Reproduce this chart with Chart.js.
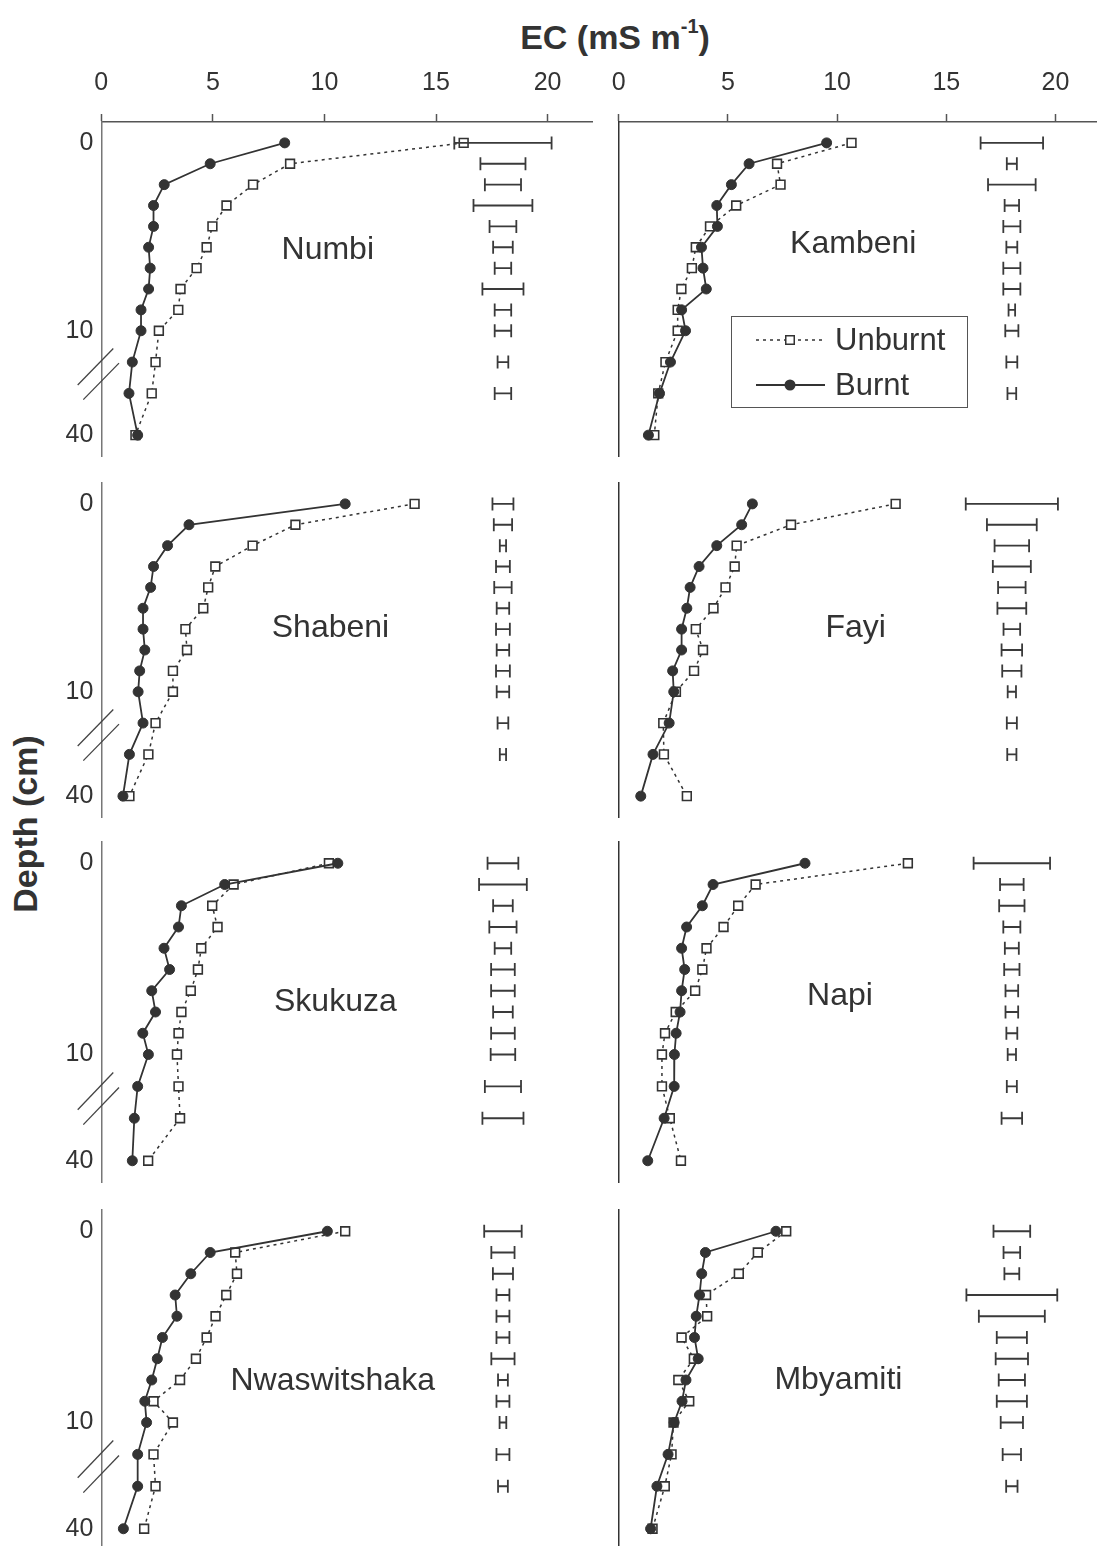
<!DOCTYPE html>
<html>
<head>
<meta charset="utf-8">
<title>EC por profundidad</title>
<script src="https://cdn.jsdelivr.net/npm/chart.js@4.4.1/dist/chart.umd.min.js"></script>
<style>
  html, body { margin: 0; padding: 0; background: #fff; overflow: hidden; }
  body { width: 1097px; height: 1546px; position: relative; font-family: "Liberation Sans", Arial, sans-serif; color: #333; }
  canvas { position: absolute; }
  .titulo { position: absolute; font-weight: bold; font-size: 34px; line-height: 34px; white-space: nowrap; }
  .titulo sup { font-size: 20px; line-height: 0; vertical-align: 16px; }
</style>
</head>
<body>
<div class="titulo" style="left:615px; top:20px; transform:translateX(-50%);">EC (mS m<sup>-1</sup>)</div>
<div class="titulo" style="left:-125px; top:807px; width:300px; height:34px; text-align:center; transform:rotate(-90deg);">Depth (cm)</div>

<script>
// Posición de cada capa muestreada sobre el eje de profundidad (eje cortado entre 10 y 40 cm)
const depthPos = [0, 1, 2, 3, 4, 5, 6, 7, 8, 9, 10.5, 12, 14];
const depthTickPos = [0, 9, 14];
const depthTickLabels = ['0', '10', '40'];
const ecTicks = [0, 5, 10, 15, 20];
const barCentre = 18; // las barras de error se dibujan centradas en 18

// EC (mS m-1) por sitio: quemado, no quemado y semiamplitud de la barra
const numbiBurnt   = [8.22, 4.88, 2.82, 2.34, 2.34, 2.12, 2.19, 2.12, 1.78, 1.78, 1.39, 1.24, 1.63];
const numbiUnburnt = [16.24, 8.46, 6.80, 5.61, 4.98, 4.72, 4.27, 3.55, 3.45, 2.58, 2.43, 2.26, 1.53];
const numbiErr     = [2.18, 1.01, 0.81, 1.32, 0.60, 0.44, 0.37, 0.92, 0.37, 0.37, 0.24, 0.37];

const kambeniBurnt   = [9.52, 5.97, 5.16, 4.49, 4.52, 3.79, 3.86, 4.01, 2.88, 3.06, 2.37, 1.87, 1.36];
const kambeniUnburnt = [10.66, 7.25, 7.41, 5.38, 4.18, 3.53, 3.35, 2.87, 2.70, 2.70, 2.14, 1.81, 1.63];
const kambeniErr     = [1.43, 0.23, 1.09, 0.33, 0.39, 0.25, 0.39, 0.39, 0.15, 0.30, 0.25, 0.20];

const shabeniBurnt   = [10.93, 3.93, 2.97, 2.34, 2.21, 1.87, 1.87, 1.95, 1.72, 1.65, 1.87, 1.26, 0.97];
const shabeniUnburnt = [14.04, 8.70, 6.78, 5.11, 4.79, 4.57, 3.77, 3.84, 3.21, 3.21, 2.43, 2.11, 1.26];
const shabeniErr     = [0.47, 0.41, 0.14, 0.31, 0.39, 0.28, 0.31, 0.28, 0.31, 0.28, 0.24, 0.14];

const fayiBurnt   = [6.12, 5.63, 4.49, 3.68, 3.27, 3.12, 2.88, 2.88, 2.47, 2.52, 2.31, 1.57, 1.01];
const fayiUnburnt = [12.68, 7.89, 5.40, 5.31, 4.89, 4.34, 3.53, 3.86, 3.45, 2.62, 2.04, 2.07, 3.12];
const fayiErr     = [2.11, 1.14, 0.79, 0.87, 0.63, 0.66, 0.38, 0.47, 0.44, 0.19, 0.23, 0.21];

const skukuzaBurnt   = [10.60, 5.53, 3.59, 3.46, 2.81, 3.06, 2.26, 2.43, 1.86, 2.11, 1.63, 1.48, 1.39];
const skukuzaUnburnt = [10.20, 5.93, 4.97, 5.21, 4.48, 4.33, 4.01, 3.59, 3.46, 3.39, 3.46, 3.53, 2.10];
const skukuzaErr     = [0.69, 1.07, 0.44, 0.61, 0.37, 0.53, 0.53, 0.44, 0.53, 0.55, 0.81, 0.92];

const napiBurnt   = [8.53, 4.32, 3.83, 3.11, 2.88, 3.02, 2.88, 2.81, 2.63, 2.55, 2.54, 2.08, 1.33];
const napiUnburnt = [13.24, 6.27, 5.47, 4.80, 4.02, 3.83, 3.50, 2.61, 2.12, 1.98, 1.98, 2.34, 2.85];
const napiErr     = [1.75, 0.54, 0.58, 0.39, 0.32, 0.35, 0.29, 0.29, 0.25, 0.19, 0.23, 0.47];

const nwasBurnt   = [10.13, 4.88, 4.01, 3.31, 3.39, 2.74, 2.51, 2.26, 1.95, 2.03, 1.63, 1.63, 0.99];
const nwasUnburnt = [10.93, 6.00, 6.08, 5.60, 5.12, 4.72, 4.24, 3.53, 2.34, 3.21, 2.34, 2.43, 1.92];
const nwasErr     = [0.84, 0.52, 0.45, 0.29, 0.29, 0.29, 0.52, 0.22, 0.29, 0.15, 0.29, 0.22];

const mbyaBurnt   = [7.20, 3.97, 3.80, 3.70, 3.55, 3.47, 3.64, 3.08, 2.90, 2.54, 2.26, 1.75, 1.46];
const mbyaUnburnt = [7.67, 6.37, 5.50, 4.00, 4.05, 2.88, 3.44, 2.73, 3.23, 2.51, 2.42, 2.11, 1.55];
const mbyaErr     = [0.84, 0.38, 0.34, 2.08, 1.51, 0.69, 0.74, 0.60, 0.69, 0.51, 0.42, 0.26];

// Paneles (fila, columna) y dónde va el nombre del sitio [EC, profundidad]
const paneles = [
  { nombre: 'Numbi',        fila: 0, col: 0, q: numbiBurnt,   nq: numbiUnburnt,   err: numbiErr,   rotulo: [10.15, 5.0] },
  { nombre: 'Kambeni',      fila: 0, col: 1, q: kambeniBurnt, nq: kambeniUnburnt, err: kambeniErr, rotulo: [10.74, 4.73], leyenda: true },
  { nombre: 'Shabeni',      fila: 1, col: 0, q: shabeniBurnt, nq: shabeniUnburnt, err: shabeniErr, rotulo: [10.27, 5.85] },
  { nombre: 'Fayi',         fila: 1, col: 1, q: fayiBurnt,    nq: fayiUnburnt,    err: fayiErr,    rotulo: [10.85, 5.82] },
  { nombre: 'Skukuza',      fila: 2, col: 0, q: skukuzaBurnt, nq: skukuzaUnburnt, err: skukuzaErr, rotulo: [10.49, 6.43] },
  { nombre: 'Napi',         fila: 2, col: 1, q: napiBurnt,    nq: napiUnburnt,    err: napiErr,    rotulo: [10.13, 6.12] },
  { nombre: 'Nwaswitshaka', fila: 3, col: 0, q: nwasBurnt,    nq: nwasUnburnt,    err: nwasErr,    rotulo: [10.37, 6.94] },
  { nombre: 'Mbyamiti',     fila: 3, col: 1, q: mbyaBurnt,    nq: mbyaUnburnt,    err: mbyaErr,    rotulo: [10.06, 6.88] }
];

// Geometría de la cuadrícula de paneles (px de página)
const filas = [[122, 456], [483, 817], [842, 1182], [1210, 1550]];
const columnas = [
  { left: 0,   ejeY: 101.3, width: 600, derecha: 597.3, colorEje: '#777' },
  { left: 597, ejeY: 21.7,  width: 510, derecha: 1104.5, colorEje: '#333' }
];

const FUENTE = '"Liberation Sans", Arial, sans-serif';
const TINTA = '#333';
Chart.defaults.font.family = FUENTE;
Chart.defaults.color = TINTA;

function cuadrado(ctx, x, y, lado) {
  ctx.fillStyle = '#fff';
  ctx.fillRect(x - lado / 2, y - lado / 2, lado, lado);
  ctx.strokeRect(x - lado / 2, y - lado / 2, lado, lado);
}

// Barras de error, corte del eje, nombre del sitio y leyenda
const extras = {
  id: 'extras',
  afterDatasetsDraw(chart, args, opts) {
    const p = opts.panel;
    const { ctx, chartArea } = chart;
    const x = chart.scales.x, y = chart.scales.y;
    ctx.save();

    ctx.strokeStyle = '#3a3a3a';
    ctx.lineWidth = 1.8;
    p.err.forEach((h, i) => {
      const yy = y.getPixelForValue(depthPos[i]);
      const x1 = x.getPixelForValue(barCentre - h);
      const x2 = x.getPixelForValue(barCentre + h);
      ctx.beginPath();
      ctx.moveTo(x1, yy); ctx.lineTo(x2, yy);
      ctx.moveTo(x1, yy - 6.5); ctx.lineTo(x1, yy + 6.5);
      ctx.moveTo(x2, yy - 6.5); ctx.lineTo(x2, yy + 6.5);
      ctx.stroke();
    });

    if (p.col === 0) {
      // doble barra del corte del eje
      const l = chartArea.left;
      ctx.strokeStyle = '#444';
      ctx.lineWidth = 1.3;
      [[-23.6, 11.6, 12, 9.85], [-18, 12.3, 17.7, 10.55]].forEach(([dx1, d1, dx2, d2]) => {
        ctx.beginPath();
        ctx.moveTo(l + dx1, y.getPixelForValue(d1));
        ctx.lineTo(l + dx2, y.getPixelForValue(d2));
        ctx.stroke();
      });
    }

    ctx.fillStyle = TINTA;
    ctx.font = '32px ' + FUENTE;
    ctx.textAlign = 'center';
    ctx.textBaseline = 'alphabetic';
    ctx.fillText(p.nombre, x.getPixelForValue(p.rotulo[0]), y.getPixelForValue(p.rotulo[1]) + 11.5);

    if (p.leyenda) {
      const ox = 597, oy = opts.top;
      ctx.strokeStyle = '#555';
      ctx.lineWidth = 1;
      ctx.strokeRect(731.5 - ox, 316.5 - oy, 236, 91);

      ctx.strokeStyle = TINTA;
      ctx.lineWidth = 1.5;
      ctx.setLineDash([3, 4]);
      ctx.beginPath();
      ctx.moveTo(756 - ox, 340 - oy); ctx.lineTo(825 - ox, 340 - oy);
      ctx.stroke();
      ctx.setLineDash([]);
      cuadrado(ctx, 790 - ox, 340 - oy, 8.5);

      ctx.lineWidth = 1.8;
      ctx.beginPath();
      ctx.moveTo(756 - ox, 385 - oy); ctx.lineTo(825 - ox, 385 - oy);
      ctx.stroke();
      ctx.fillStyle = TINTA;
      ctx.beginPath();
      ctx.arc(790 - ox, 385 - oy, 5.5, 0, Math.PI * 2);
      ctx.fill();

      ctx.font = '31px ' + FUENTE;
      ctx.textAlign = 'left';
      ctx.fillText('Unburnt', 835 - ox, 350 - oy);
      ctx.fillText('Burnt', 835 - ox, 395 - oy);
    }
    ctx.restore();
  }
};

function puntos(valores) {
  return valores.map((v, i) => ({ x: v, y: depthPos[i] }));
}

paneles.forEach(p => {
  const col = columnas[p.col];
  const area = filas[p.fila];
  const arriba = p.fila === 0;
  const top = arriba ? 40 : area[0] - 10;
  const alto = area[1] - top + 10;

  const canvas = document.createElement('canvas');
  canvas.width = col.width;
  canvas.height = alto;
  canvas.style.left = col.left + 'px';
  canvas.style.top = top + 'px';
  document.body.appendChild(canvas);

  new Chart(canvas.getContext('2d'), {
    type: 'line',
    data: {
      datasets: [
        {
          label: 'Unburnt',
          data: puntos(p.nq),
          borderColor: TINTA,
          borderWidth: 1.5,
          borderDash: [3, 4],
          pointStyle: 'rect',
          pointRadius: 6.2,
          pointBorderWidth: 1.6,
          pointBorderColor: TINTA,
          pointBackgroundColor: '#fff',
          order: 2
        },
        {
          label: 'Burnt',
          data: puntos(p.q),
          borderColor: TINTA,
          borderWidth: 1.8,
          pointStyle: 'circle',
          pointRadius: 5,
          pointBorderWidth: 1,
          pointBorderColor: TINTA,
          pointBackgroundColor: TINTA,
          order: 1
        }
      ]
    },
    options: {
      responsive: false,
      animation: false,
      layout: { padding: { top: arriba ? 0 : 10, bottom: 10, left: 0, right: col.width - col.derecha + col.left } },
      plugins: {
        legend: { display: false },
        tooltip: { enabled: false },
        extras: { panel: p, top: top }
      },
      scales: {
        x: {
          type: 'linear',
          position: 'top',
          min: 0,
          max: 22,
          display: arriba,
          afterBuildTicks: s => { s.ticks = ecTicks.map(v => ({ value: v })); },
          afterFit: s => {
            // solo la fila superior lleva eje de EC
            s.height = arriba ? 82 : 0;
            s.paddingLeft = 0; s.paddingRight = 0;
          },
          ticks: { font: { size: 25 }, color: TINTA, padding: 16, maxRotation: 0, autoSkip: false },
          grid: { display: true, drawOnChartArea: false, drawTicks: true, tickLength: 8, tickColor: '#555', tickWidth: 1.5 },
          border: { display: true, color: '#555', width: 1.5 }
        },
        y: {
          type: 'linear',
          reverse: true,
          min: -1,
          max: 15,
          afterBuildTicks: s => { s.ticks = depthTickPos.map(v => ({ value: v })); },
          afterFit: s => {
            s.width = col.ejeY;
            s.paddingTop = 0; s.paddingBottom = 0;
          },
          ticks: {
            display: p.col === 0,
            autoSkip: false,
            font: { size: 25 },
            color: TINTA,
            padding: 8,
            callback: v => depthTickLabels[depthTickPos.indexOf(v)]
          },
          grid: { display: false, drawTicks: false },
          border: { display: true, color: col.colorEje, width: 1.5 }
        }
      }
    },
    plugins: [extras]
  });
});
</script>
</body>
</html>
